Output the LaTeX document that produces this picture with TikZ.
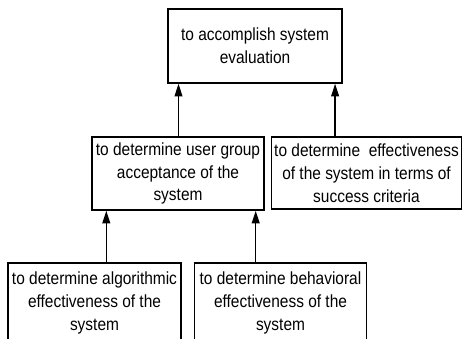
\documentclass[tikz,border=0pt]{standalone}
\usepackage{fontspec}
\setmainfont[FakeStretch=0.88]{Liberation Sans}
\usetikzlibrary{arrows.meta}

\begin{document}
\begin{tikzpicture}[
    goal/.style={draw, line width=1pt, rectangle, align=center, inner sep=2pt,
                 minimum height=1.85cm, font=\fontsize{12.5}{16.3}\selectfont},
    arr/.style={-{Triangle[width=5.5pt,length=9pt]}, line width=1.1pt}
]
\useasboundingbox (0,0) rectangle (11.55,8.45);
\clip (0,0) rectangle (11.55,8.45);

% Top goal
\node[goal, minimum width=4.35cm] (top) at (6.375,7.3) {to accomplish system\\evaluation};

% Second level
\node[goal, minimum width=4.3cm, minimum height=1.825cm] (midL) at (4.45,4.1125) {to determine user group\\acceptance of the\\system};
\node[goal, minimum width=4.725cm, minimum height=1.8cm] (midR) at (9.1625,4.125) {to determine \ effectiveness\\of the system in terms of\\success criteria};

% Third level (runs off the bottom)
\node[goal, minimum width=4.325cm, minimum height=2cm] (botL) at (2.3625,0.875) {to determine algorithmic\\effectiveness of the\\system};
\node[goal, minimum width=4.3cm, minimum height=2cm] (botR) at (7.0125,0.875) {to determine behavioral\\effectiveness of the\\system};

% Arrows up the tree
\draw[arr] ([xshift=0.28cm]top.south west |- midL.north) -- ([xshift=0.28cm]top.south west);
\draw[arr] ([xshift=-0.19cm]top.south east |- midR.north) -- ([xshift=-0.19cm]top.south east);
\draw[arr] ([xshift=0.375cm]midL.south west |- botL.north) -- ([xshift=0.375cm]midL.south west);
\draw[arr] ([xshift=-0.225cm]midL.south east |- botR.north) -- ([xshift=-0.225cm]midL.south east);

\end{tikzpicture}
\end{document}
